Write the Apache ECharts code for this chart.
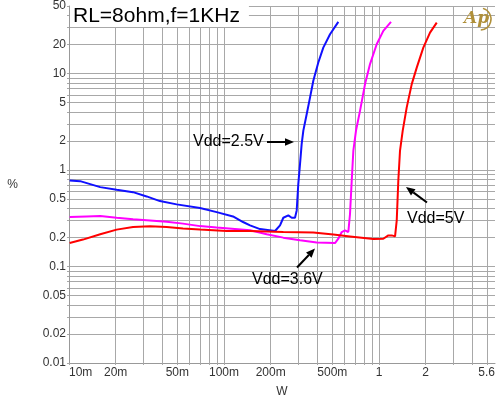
<!DOCTYPE html>
<html><head><meta charset="utf-8">
<script src="https://cdn.jsdelivr.net/npm/echarts@6/dist/echarts.min.js"></script>
<style>html,body{margin:0;padding:0;background:#fff}#c{width:498px;height:403px}</style>
</head><body><div id="c"></div>
<script>
// ---- data ----
const xTickValues = [0.01, 0.02, 0.05, 0.1, 0.2, 0.5, 1, 2, 5.6];
const xTickLabels = ['10m', '20m', '50m', '100m', '200m', '500m', '1', '2', '5.6'];
const xGridValues = [0.01,0.02,0.03,0.04,0.05,0.06,0.07,0.08,0.09,0.1,0.2,0.3,0.4,0.5,0.6,0.7,0.8,0.9,1,2,3,4,5];
const yTickValues = [0.01, 0.02, 0.05, 0.1, 0.2, 0.5, 1, 2, 5, 10, 20, 50];
const yTickLabels = ['0.01', '0.02', '0.05', '0.1', '0.2', '0.5', '1', '2', '5', '10', '20', '50'];
const yGridValues = [0.01,0.02,0.03,0.04,0.05,0.06,0.07,0.08,0.09,0.1,0.2,0.3,0.4,0.5,0.6,0.7,0.8,0.9,1,2,3,4,5,6,7,8,9,10,20,30,40,50];

const vdd25 = [[0.0101,0.778],[0.0118,0.766],[0.0159,0.664],[0.0203,0.624],[0.0259,0.589],[0.0317,0.532],[0.0386,0.476],[0.0495,0.44],[0.07,0.403],[0.0897,0.366],[0.1143,0.33],[0.1327,0.289],[0.1472,0.267],[0.1708,0.244],[0.2133,0.233],[0.2298,0.267],[0.2413,0.32],[0.26,0.338],[0.2734,0.32],[0.2871,0.32],[0.2944,0.381],[0.3015,0.719],[0.3093,1.158],[0.317,1.863],[0.3249,2.557],[0.3417,3.8],[0.359,5.65],[0.3768,8.4],[0.4058,13],[0.437,18.5],[0.483,25.5],[0.5463,34.2]];
const vdd36 = [[0.0101,0.325],[0.013,0.33],[0.0159,0.333],[0.0203,0.32],[0.0259,0.308],[0.0333,0.30],[0.0427,0.291],[0.0544,0.278],[0.07,0.262],[0.0897,0.253],[0.1472,0.237],[0.1886,0.2155],[0.2413,0.199],[0.3093,0.187],[0.3964,0.177],[0.52,0.175],[0.5463,0.194],[0.5746,0.2275],[0.6034,0.237],[0.634,0.2275],[0.65,0.352],[0.6667,0.778],[0.683,1.589],[0.7105,2.56],[0.754,4.1],[0.8124,7.76],[0.875,12.5],[0.966,20.1],[1.066,27.6],[1.195,34.2]];
const vdd5 = [[0.0101,0.175],[0.0123,0.19],[0.0159,0.2155],[0.0203,0.241],[0.0259,0.256],[0.0333,0.261],[0.0427,0.256],[0.0544,0.247],[0.07,0.241],[0.104,0.233],[0.1472,0.233],[0.2413,0.2275],[0.3768,0.2244],[0.507,0.214],[0.65,0.205],[0.919,0.193],[1.066,0.194],[1.148,0.21],[1.208,0.21],[1.269,0.205],[1.301,0.30],[1.332,0.778],[1.366,1.589],[1.422,2.56],[1.509,4.45],[1.626,7.76],[1.751,11.5],[1.931,18.5],[2.133,26.5],[2.357,33.6]];

const seriesNames = ['Vdd=2.5V', 'Vdd=3.6V', 'Vdd=5V'];
const titleText = 'RL=8ohm,f=1KHz';

// ---- chart ----
function lookup(values, labels, v) {
  let best = 0, bd = Infinity;
  values.forEach((t, i) => { const d = Math.abs(Math.log(t) - Math.log(v)); if (d < bd) { bd = d; best = i; } });
  return labels[best];
}
const gridColor = '#a8a8a8';
const labelColor = '#333';
const chart = echarts.init(document.getElementById('c'), null, { renderer: 'canvas' });
chart.setOption({
  backgroundColor: '#fff',
  animation: false,
  title: {
    text: titleText, left: 70, top: 6,
    backgroundColor: '#fff', padding: [0, 9, 0, 3],
    textStyle: { fontFamily: 'Liberation Sans, Arial, sans-serif', fontSize: 21, fontWeight: 'normal', color: '#000', lineHeight: 21 }
  },
  grid: { left: 69, right: 3, top: 5, bottom: 40, containLabel: false },
  xAxis: {
    type: 'log', logBase: 10, min: 0.01, max: 5.6,
    name: 'W', nameLocation: 'middle', nameGap: 23,
    nameTextStyle: { color: labelColor, fontSize: 12, fontFamily: 'Liberation Sans, Arial, sans-serif' },
    axisLine: { show: true, lineStyle: { color: '#999', width: 1 } },
    axisTick: { show: true, length: 2, customValues: xGridValues, lineStyle: { color: gridColor } },
    axisLabel: {
      customValues: xTickValues, margin: 4, color: labelColor, fontSize: 12,
      fontFamily: 'Liberation Sans, Arial, sans-serif',
      alignMinLabel: 'left', alignMaxLabel: 'right',
      formatter: v => lookup(xTickValues, xTickLabels, v)
    },
    splitLine: { show: true, lineStyle: { color: gridColor, width: 1 } },
    minorSplitLine: { show: false }
  },
  yAxis: {
    type: 'log', logBase: 10, min: 0.01, max: 50,
    name: '%', nameLocation: 'middle', nameRotate: 0, nameGap: 51,
    nameTextStyle: { color: labelColor, fontSize: 12, fontFamily: 'Liberation Sans, Arial, sans-serif' },
    axisLine: { show: true, lineStyle: { color: '#999', width: 1 } },
    axisTick: { show: true, length: 2, customValues: yGridValues, lineStyle: { color: gridColor } },
    axisLabel: {
      customValues: yTickValues, margin: 3, color: labelColor, fontSize: 12,
      fontFamily: 'Liberation Sans, Arial, sans-serif',
      formatter: v => lookup(yTickValues, yTickLabels, v)
    },
    splitLine: { show: true, lineStyle: { color: gridColor, width: 1 } }
  },
  series: [
    { name: seriesNames[0], type: 'line', data: vdd25, showSymbol: false, smooth: false, lineStyle: { color: '#1010ff', width: 2 }, itemStyle: { color: '#1010ff' }, z: 3 },
    { name: seriesNames[1], type: 'line', data: vdd36, showSymbol: false, smooth: false, lineStyle: { color: '#ff00ff', width: 2 }, itemStyle: { color: '#ff00ff' }, z: 3 },
    { name: seriesNames[2], type: 'line', data: vdd5, showSymbol: false, smooth: false, lineStyle: { color: '#ff0000', width: 2 }, itemStyle: { color: '#ff0000' }, z: 4 }
  ]
});

// ---- annotations (text + arrows) ----
function arrow(x1, y1, x2, y2) {
  const ang = Math.atan2(y2 - y1, x2 - x1);
  const L = 9, W = 3.8;
  const bx = x2 - L * Math.cos(ang), by = y2 - L * Math.sin(ang);
  const px = -Math.sin(ang) * W, py = Math.cos(ang) * W;
  return [
    { type: 'line', shape: { x1: x1, y1: y1, x2: bx, y2: by }, style: { stroke: '#000', lineWidth: 2 }, z: 20 },
    { type: 'polygon', shape: { points: [[x2, y2], [bx + px, by + py], [bx - px, by - py]] }, style: { fill: '#000' }, z: 20 }
  ];
}
const annFont = '16px "Liberation Sans", Arial, sans-serif';
const g = [];
g.push({ type: 'text', x: 193, y: 142, style: { text: seriesNames[0], font: annFont, fill: '#000', textVerticalAlign: 'middle' }, z: 20 });
g.push(...arrow(267, 142, 294, 142));
g.push({ type: 'text', x: 407, y: 218.5, style: { text: seriesNames[2], font: annFont, fill: '#000', textVerticalAlign: 'middle' }, z: 20 });
g.push(...arrow(427, 202.5, 406, 187));
g.push({ type: 'text', x: 252, y: 280, style: { text: seriesNames[1], font: annFont, fill: '#000', textVerticalAlign: 'middle' }, z: 20 });
g.push(...arrow(297, 267.5, 315, 248.5));
// Ap logo
g.push({ type: 'text', x: 464, y: 10, style: { text: 'Ap', font: 'italic bold 17px "DejaVu Serif", serif', fill: '#b0903a' }, z: 20 });
g.push({ type: 'arc', shape: { cx: 480, cy: 19, r: 11, startAngle: -1.3, endAngle: 1.5 }, style: { stroke: '#b0903a', lineWidth: 1.5, fill: null }, z: 20 });
chart.setOption({ graphic: g });
</script>
</body></html>
